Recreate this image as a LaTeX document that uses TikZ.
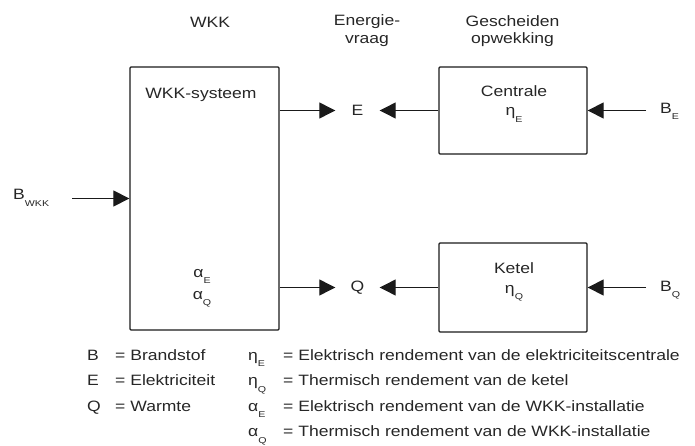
\documentclass[tikz,border=0pt]{standalone}
\usepackage{fontspec}
\setmainfont{Liberation Sans}[FakeStretch=1.17]
\newfontfamily\subfont{Liberation Sans}[FakeStretch=1.25]
\usepackage{xcolor}
\usepackage{tikz}
\usetikzlibrary{arrows.meta,positioning}
\definecolor{wkkline}{HTML}{1A1A1A}
\definecolor{wkktext}{HTML}{262626}
\newcommand{\lowidx}[1]{\raisebox{-6.5pt}{\fontsize{8.5}{8.5}\subfont #1}}

\begin{document}
\begin{tikzpicture}[x=1pt, y=-1pt, font=\fontsize{15}{17.5}\selectfont, text=wkktext,
  box/.style={draw=wkkline, line width=1.3pt, rounded corners=1pt, inner sep=0pt},
  flow/.style={-{Triangle[length=16pt,width=16pt]}, line width=1.2pt, draw=wkkline},
  lbl/.style={inner sep=0pt, anchor=base}]
  \useasboundingbox (0,0) rectangle (695,446);

  % column titles
  \node[lbl] (tWKK) at (210,27.5) {WKK};
  \node[lbl, align=center] (tDemand) at (367,43.5) {Energie-\\vraag};
  \node[lbl, align=center] (tSeparate) at (512.5,44) {Gescheiden\\opwekking};

  % blocks
  \node[box, minimum width=149pt, minimum height=263pt] (wkkbox) at (204.5,198.5) {};
  \node[box, minimum width=148pt, minimum height=87pt] (centrale) at (513,110.5) {};
  \node[box, minimum width=148pt, minimum height=89pt] (ketel) at (513,287.5) {};

  \node[lbl] (wkkname) at (201,99) {WKK-systeem};
  \node[lbl] (alphaE) at (202,277) {α\lowidx{E}};
  \node[lbl] (alphaQ) at (202,299) {α\lowidx{Q}};
  \node[lbl] (cname) at (514,97) {Centrale};
  \node[lbl] (etaE) at (514,116) {η\lowidx{E}};
  \node[lbl] (kname) at (514,273) {Ketel};
  \node[lbl] (etaQ) at (514,293) {η\lowidx{Q}};

  % energy demand and fuel inputs
  \node[minimum width=44pt, inner sep=0pt] (demE) at (357.5,110.5) {E};
  \node[minimum width=44pt, inner sep=0pt] (demQ) at (357.5,287.5) {Q};
  \node[lbl, anchor=base west] (fuelWKK) at (13,200) {B\lowidx{WKK}};
  \node[lbl, anchor=base west] (fuelE) at (660,113.5) {B\lowidx{E}};
  \node[lbl, anchor=base west] (fuelQ) at (660,291) {B\lowidx{Q}};
  \coordinate (inWKK) at (72,198.5);
  \coordinate (inE) at (646,110.5);
  \coordinate (inQ) at (646,287.5);

  \draw[flow] (inWKK) -- (wkkbox);
  \draw[flow] (wkkbox.east |- demE) -- (demE);
  \draw[flow] (wkkbox.east |- demQ) -- (demQ);
  \draw[flow] (centrale) -- (demE);
  \draw[flow] (ketel) -- (demQ);
  \draw[flow] (inE) -- (centrale);
  \draw[flow] (inQ) -- (ketel);

  % legend
  \node[anchor=base west, inner sep=0pt] (keyLeft) at (87,360) {\fontsize{15}{25.5}\selectfont
    \begin{tabular}[t]{@{}p{28pt}@{}l@{}}
      B & = Brandstof\\
      E & = Elektriciteit\\
      Q & = Warmte
    \end{tabular}};
  \node[anchor=base west, inner sep=0pt] (keyRight) at (248,360) {\fontsize{15}{25.5}\selectfont
    \begin{tabular}[t]{@{}p{35pt}@{}l@{}}
      η\lowidx{E} & = Elektrisch rendement van de elektriciteitscentrale\\
      η\lowidx{Q} & = Thermisch rendement van de ketel\\
      α\lowidx{E} & = Elektrisch rendement van de WKK-installatie\\
      α\lowidx{Q} & = Thermisch rendement van de WKK-installatie
    \end{tabular}};
\end{tikzpicture}
\end{document}
